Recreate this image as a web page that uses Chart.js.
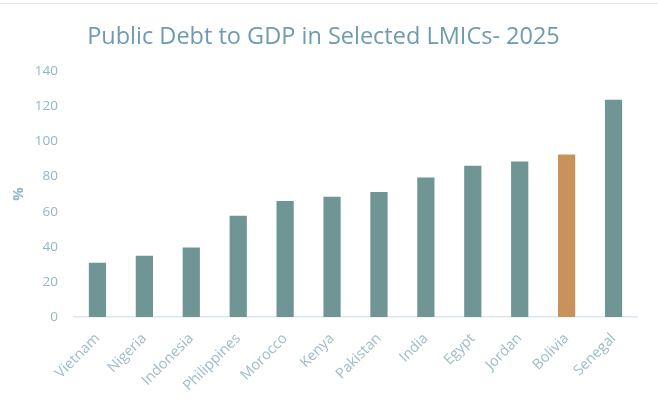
<!DOCTYPE html>
<html>
<head>
<meta charset="utf-8">
<script src="https://cdn.jsdelivr.net/npm/chart.js@4.4.1/dist/chart.umd.min.js"></script>
<style>
  html, body { margin: 0; padding: 0; background: #fff; }
  #wrap { width: 658px; height: 406px; position: relative; }
  #wrap:before { content: ""; position: absolute; left: 0; right: 0; top: 3px; height: 1px; background: #e3e8ec; }
</style>
</head>
<body>
<div id="wrap"><canvas id="myChart" width="658" height="406"></canvas></div>
<script>
const countries = ['Vietnam', 'Nigeria', 'Indonesia', 'Philippines', 'Morocco', 'Kenya',
    'Pakistan', 'India', 'Egypt', 'Jordan', 'Bolivia', 'Senegal'];
const debtToGdp = [31.5, 35.5, 40.2, 58.2, 66.7, 69.1, 71.8, 80.0, 86.7, 89.1, 93.1, 124.3];
const yTicks = [0, 20, 40, 60, 80, 100, 120, 140];

const teal = '#6f9694';
const orange = '#c8935b';
const textColor = '#94b6c6';

// Bolivia is highlighted
const barColors = countries.map(c => c === 'Bolivia' ? orange : teal);

const ctx = document.getElementById('myChart').getContext('2d');
const myChart = new Chart(ctx, {
    type: 'bar',
    data: {
        labels: countries,
        datasets: [{
            label: 'Public debt to GDP',
            data: debtToGdp,
            backgroundColor: barColors,
            borderColor: 'rgba(255,255,255,0.35)',
            borderWidth: 1,
            categoryPercentage: 1,
            barPercentage: 0.41
        }]
    },
    options: {
        responsive: false,
        animation: false,
        layout: {
            padding: { left: 10, right: 21, top: 0, bottom: 0 }
        },
        scales: {
            x: {
                grid: { display: false, drawTicks: false },
                border: { color: '#dce8ee', width: 1.5 },
                ticks: {
                    color: '#9dbccb',
                    font: { family: 'Open Sans', size: 14.5 },
                    maxRotation: 45,
                    minRotation: 45,
                    padding: 13
                },
                afterFit: function(axis) { axis.height = 89; }
            },
            y: {
                min: 0,
                max: 140,
                grid: { display: false, drawTicks: false },
                border: { display: false },
                afterBuildTicks: function(axis) {
                    axis.ticks = yTicks.map(v => ({ value: v }));
                },
                ticks: {
                    color: textColor,
                    font: { family: 'Open Sans', size: 13.5 },
                    padding: 16
                },
                title: {
                    display: true,
                    text: '%',
                    color: textColor,
                    font: { family: 'Open Sans', size: 15, weight: 'bold' },
                    padding: { top: 0, bottom: 0 }
                },
                afterFit: function(axis) { axis.width = 64; }
            }
        },
        plugins: {
            legend: { display: false },
            tooltip: { enabled: false },
            title: {
                display: true,
                text: 'Public Debt to GDP in Selected LMICs- 2025',
                color: '#6f9bb0',
                font: { family: 'Open Sans', size: 23.5, weight: 'normal' },
                padding: { top: 23, bottom: 20 }
            }
        }
    }
});
</script>
</body>
</html>
